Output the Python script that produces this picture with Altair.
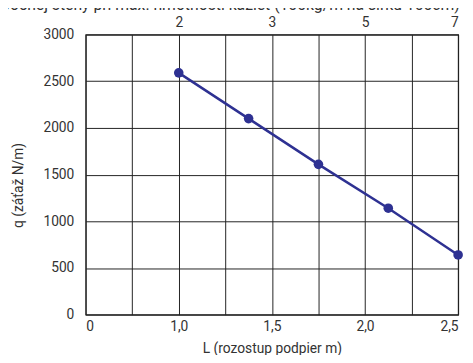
import altair as alt
import pandas as pd

# data
L = [1.0, 1.375, 1.75, 2.125, 2.5]
q = [2590, 2100, 1610, 1140, 640]

grid_x = [0.5, 0.75, 1.0, 1.25, 1.5, 1.75, 2.0, 2.25, 2.5]
bottom_ticks = [0.5, 1.0, 1.5, 2.0, 2.5]
bottom_labels = ["0", "1,0", "1,5", "2,0", "2,5"]
top_ticks = [1.0, 1.5, 2.0, 2.5]
top_labels = ["2", "3", "5", "7"]
y_ticks = [0, 500, 1000, 1500, 2000, 2500, 3000]
title_text = "Zaťaženie bočnej steny pri max. hmotnosti kaziet (100kg/m na šírku 100cm)"

BLUE = "#2E3192"
FONT = "Roboto"
FS = 14


def label_expr(vals, labs):
    s = "''"
    for v, l in reversed(list(zip(vals, labs))):
        s = f"datum.value == {v} ? '{l}' : ({s})"
    return s


df = pd.DataFrame({"L": L, "q": q})
xs = alt.Scale(domain=[0.5, 2.5], nice=False, zero=False)
ys = alt.Scale(domain=[0, 3000], nice=False)

bottom_axis = alt.Axis(
    values=grid_x, grid=True, gridColor="#222", gridOpacity=1, gridWidth=1,
    ticks=False, domain=False, labelExpr=label_expr(bottom_ticks, bottom_labels),
    labelFlush=True, labelOverlap=False, labelPadding=5, labelFontSize=FS,
    labelColor="#333", labelFont=FONT,
    title="L (rozostup podpier m)", titleFontSize=FS, titleFontWeight="normal",
    titleColor="#333", titleFont=FONT, titleY=27,
)
top_axis = alt.Axis(
    orient="top", values=top_ticks, grid=False, ticks=False, domain=False,
    labelExpr=label_expr(top_ticks, top_labels), labelFlush=True,
    labelOverlap=False, labelPadding=5, labelFontSize=FS, labelColor="#333",
    labelFont=FONT, title=None,
)
y_axis = alt.Axis(
    values=y_ticks, format="d", grid=True, gridColor="#222", gridOpacity=1,
    gridWidth=1, ticks=False, domain=False, labelPadding=12, labelFontSize=FS,
    labelColor="#333", labelFont=FONT, labelOverlap=False,
    title="q (záťaž N/m)", titleFontSize=FS, titleFontWeight="normal",
    titleColor="#333", titleFont=FONT, titleX=-68, titleY=153,
    titleAngle=270, titleBaseline="middle", titleAlign="center",
)

line = alt.Chart(df).mark_line(color=BLUE, strokeWidth=2.5).encode(
    x=alt.X("L:Q", scale=xs, axis=bottom_axis),
    y=alt.Y("q:Q", scale=ys, axis=y_axis),
)
points = alt.Chart(df).mark_circle(color=BLUE, size=95, opacity=1).encode(
    x=alt.X("L:Q", scale=xs, axis=top_axis),
    y=alt.Y("q:Q", scale=ys, axis=None),
)
title = alt.Chart(pd.DataFrame({"t": [title_text]})).mark_text(
    align="left", baseline="alphabetic", fontSize=16, font=FONT, color="#333"
).encode(x=alt.value(-160), y=alt.value(-24.5), text="t:N")

chart = (
    alt.layer(line, points, title)
    .resolve_axis(x="independent", y="independent")
    .properties(
        width=379, height=285,
        autosize=alt.AutoSizeParams(type="none"),
        padding={"left": 79, "top": 24, "right": 7, "bottom": 38},
    )
    .configure_view(stroke="#222", strokeWidth=1.2)
)

chart.save("out.html", embed_options={"renderer": "svg", "actions": False})
